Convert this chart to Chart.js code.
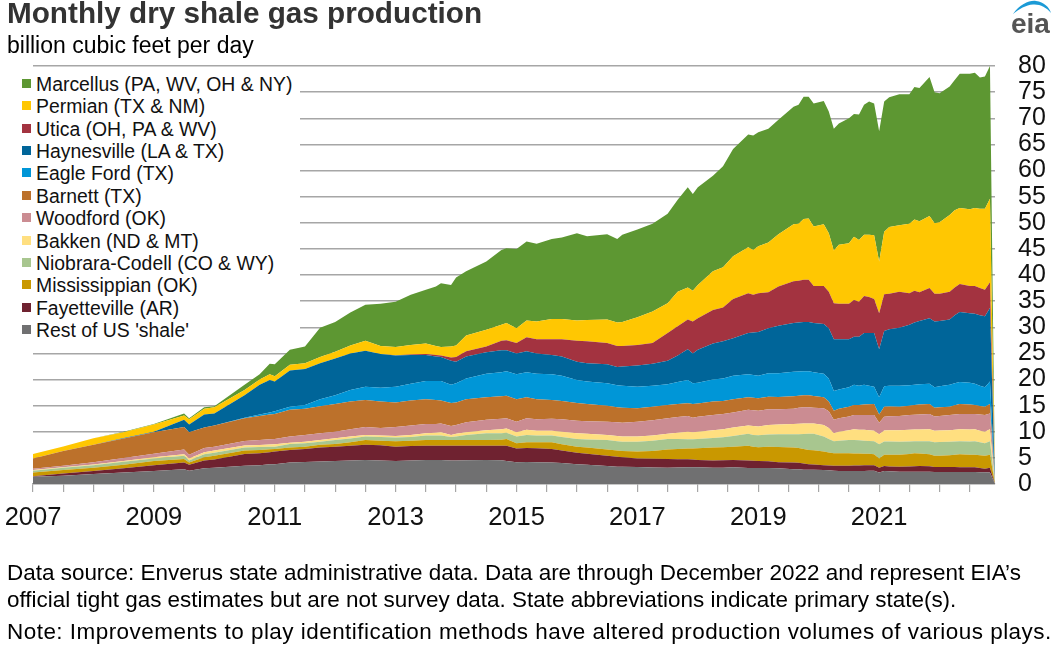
<!DOCTYPE html>
<html>
<head>
<meta charset="utf-8">
<title>Monthly dry shale gas production</title>
<script src="https://cdn.jsdelivr.net/npm/chart.js@4"></script>
<style>
  html,body{margin:0;padding:0;background:#fff;overflow:hidden}
  body{width:1061px;height:649px;position:relative;font-family:"Liberation Sans",Arial,sans-serif;color:#000}
  #wrap{position:absolute;left:0;top:0;width:1061px;height:649px}
  .t{position:absolute;white-space:nowrap;line-height:1}
  #title{left:7px;top:-2px;font-size:29.7px;font-weight:bold;color:#333}
  #sub{left:7px;top:34px;font-size:23px}
  #f1{left:7px;top:562px;font-size:22.46px}
  #f2{left:7px;top:589px;font-size:22.46px}
  #f3{left:7px;top:621px;font-size:22.46px;letter-spacing:.48px}
  #legend{position:absolute;left:15px;top:70px;width:285px;height:273px;background:#fff}
  .li{position:absolute;left:0;height:22px;width:285px}
  .sw{position:absolute;left:7px;top:6px;width:9px;height:9px}
  .lb{position:absolute;left:21px;top:1px;font-size:19.4px;line-height:20px;white-space:nowrap;color:#111}
  #eia{position:absolute;left:1005px;top:0;width:56px;height:40px}
</style>
</head>
<body>
<div id="wrap"><canvas id="c" width="1061" height="649"></canvas></div>
<div id="title" class="t">Monthly dry shale gas production</div>
<div id="sub" class="t">billion cubic feet per day</div>
<div id="legend"></div>
<svg id="eia" viewBox="0 0 56 40">
  <path d="M8 14 C15 4 25 0 31 1 C39 2 44 7 46 13 C41 7 35 4 28 4.500 C21 5 14 9 8 14 Z" fill="#1b9ad6"/>
  <text x="6" y="33" font-family="Liberation Sans" font-weight="bold" font-size="28" fill="#555">eia</text>
</svg>
<div id="f1" class="t">Data source: Enverus state administrative data. Data are through December 2022 and represent EIA’s</div>
<div id="f2" class="t">official tight gas estimates but are not survey data. State abbreviations indicate primary state(s).</div>
<div id="f3" class="t">Note: Improvements to play identification methods have altered production volumes of various plays.</div>
<script>
const months = [
  0,6,12,18,24,30,31,34,36,42,
  45,47,48,51,54,57,60,63,66,69,
  72,75,78,80,81,83,84,86,90,93,
  94,96,98,100,103,105,108,110,114,116,
  117,120,123,126,128,130,131,132,135,137,
  139,142,143,144,146,148,151,152,153,154,
  155,157,158,159,160,162,163,164,165,166,
  167,168,169,170,172,174,175,176,178,179,
  180,182,183,184,186,187,188,189,190,191];

const rest = [
  1.4,1.6,1.9,2.2,2.5,2.8,2.55,3,3.1,3.5,
  3.6,3.8,3.8,4.1,4.2,4.3,4.4,4.5,4.6,4.5,
  4.4,4.5,4.6,4.6,4.6,4.5,4.5,4.55,4.6,4.55,
  4.4,4.15,4.2,4.15,4.1,4,3.8,3.7,3.45,3.3,
  3.3,3.25,3.15,3.1,3.15,3.2,3.2,3.2,3.1,3.1,
  3.2,3.05,3.05,3.05,3.05,3,2.8,2.8,2.75,2.75,
  2.75,2.7,2.65,2.55,2.5,2.5,2.5,2.5,2.5,2.55,
  2.55,2.2,2.5,2.45,2.35,2.35,2.35,2.35,2.35,2.3,
  2.3,2.3,2.3,2.3,2.3,2.3,2.25,2.25,2.2,0];
const fayetteville = [
  .1,.4,.6,.8,1.1,1.3,1.15,1.5,1.6,2.25,
  2.3,2.3,2.4,2.4,2.5,2.7,2.75,2.8,2.9,2.9,
  2.75,2.75,2.7,2.7,2.7,2.8,2.8,2.75,2.7,2.75,
  2.9,2.65,2.7,2.7,2.6,2.4,2.2,2.1,1.95,1.9,
  1.8,1.65,1.7,1.7,1.6,1.55,1.5,1.4,1.4,1.45,
  1.4,1.45,1.4,1.35,1.3,1.15,1.3,1.25,1.15,1.05,
  1,.9,.9,.95,1,1,1.05,1.05,1.1,1.05,
  1.05,.9,.95,.9,.95,1,1.05,1.1,1.05,.95,
  .95,.95,.95,.9,.9,.9,.8,.65,.9,0];
const mississippian = [
  .7,.7,.6,.7,.8,.7,.4,.6,.7,.65,
  .6,.55,.5,.5,.45,.5,.5,.7,.9,.9,
  1.05,1.05,1.1,1.1,1.1,1.1,1.1,1.1,1.1,1.15,
  1.3,1,1.1,1.15,1.3,1.2,1.15,1.2,1.2,1.2,
  1.2,1.3,1.45,1.8,1.95,2.05,2.1,2.25,2.5,2.5,
  2.55,2.8,2.7,2.65,2.8,2.95,2.9,2.85,2.8,2.7,
  2.7,2.6,2.5,2.4,2.4,2.4,2.3,2.3,2.2,2.2,
  2.1,1.8,2.15,2.25,2.3,2.4,2.5,2.4,2.3,2.15,
  2.15,2.25,2.35,2.5,2.4,2.4,2.45,2.5,2.5,0];
const niobrara = [
  .35,.4,.5,.55,.5,.6,.4,.6,.6,.6,
  .6,.5,.45,.65,.65,.6,.75,.7,.7,.7,
  .7,.7,.9,.9,.9,.6,.7,1,1.3,1.25,
  1.2,1.3,1.4,1.3,1.3,1.4,1.45,1.5,1.8,1.8,
  1.8,1.9,2,2,1.9,1.75,1.75,1.75,1.8,1.9,
  2.05,2.3,2.25,2.3,2.3,2.4,2.5,2.6,2.85,3.1,
  3.15,2.9,2.55,2.3,2.4,2.5,2.55,2.5,2.5,2.45,
  2.5,2.7,2.55,2.55,2.5,2.4,2.3,2.35,2.5,2.6,
  2.65,2.6,2.55,2.5,2.55,2.6,2.5,2.4,2.6,0];
const bakken = [
  .15,.1,.15,.15,.2,.3,.4,.4,.4,.35,
  .35,.4,.45,.25,.3,.3,.35,.4,.3,.3,
  .3,.4,.4,.5,.6,.4,.5,.5,.6,.8,
  .8,.8,1,.9,.9,1,1.1,1.1,1,1,
  1,1,1,1,1.2,1.45,1.35,1.4,1.5,1.55,
  1.6,1.6,1.7,1.65,1.85,1.9,2,2.05,2.05,2,
  2,2.2,2.1,1.5,1.7,1.9,2.1,2.05,2.1,2.05,
  2,1.9,2.1,2.15,2.2,2.25,2.25,2.25,2.3,2.2,
  2.2,2.2,2.25,2.3,2.3,2.3,2.2,2.2,2.3,0];
const woodford = [
  .2,.3,.4,.6,.7,.9,.7,.8,.75,.9,
  .95,1,1,1.2,1.3,1.3,1.25,1.4,1.5,1.4,
  1.7,1.8,1.8,1.7,1.7,1.7,1.7,1.9,2,2,
  2,2,2.2,2.2,2.3,2.4,2.4,2.4,2.5,2.6,
  2.6,2.8,2.9,3,3,3,2.8,2.85,2.9,2.9,
  2.9,3,3,3,3,2.9,2.9,3.05,3.1,3.1,
  3,3.2,3.2,2.6,2.6,2.6,2.7,2.8,2.8,2.9,
  3,2.2,2.6,2.65,2.7,2.8,2.8,2.85,2.9,2.7,
  2.75,2.9,2.9,2.9,2.95,2.9,3.1,3.2,3,0];
const barnett = [
  2,2.8,3.35,3.7,4.1,4.3,4.3,3.9,4.05,4.35,
  4.6,4.75,4.8,5.1,5,5.2,5.3,5.3,5.2,5.1,
  4.7,4.8,4.7,4.6,4.4,4.4,4.3,4.4,4.3,4.3,
  4.3,4.3,4,3.8,3.6,3.5,3.4,3.3,3.1,2.9,
  2.9,2.6,2.6,2.5,2.5,2.45,2.6,2.55,2.6,2.5,
  2.5,2.4,2.4,2.4,2.4,2.35,2.4,2.3,2.3,2.3,
  2.25,2.1,1.9,1.7,1.8,1.9,1.9,1.9,2,2.05,
  2.1,1.6,1.95,1.9,1.8,1.8,1.85,1.9,1.9,1.7,
  1.7,1.6,1.75,1.9,1.8,1.7,1.65,1.6,1.8,0];
const eagleFord = [
  0,0,0,0,0,0,0,0,0,.1,
  .3,.4,.5,.6,.7,1.3,1.7,2.2,2.5,2.6,
  3,3.2,3.5,3.6,3.7,3.5,3.7,4,4.5,4.6,
  4.7,4.8,4.8,4.9,4.9,4.8,4.4,4.3,4.3,4.2,
  4.2,4.1,4,4,4.2,4.45,4,4,4.2,4.3,
  4.5,4.4,4.35,4.3,4.5,4.55,4.7,4.65,4.6,4.6,
  4.55,4.5,4.4,3.8,3.7,3.7,3.9,3.7,3.8,3.55,
  3.3,3.3,3.9,3.95,4,3.9,3.9,3.9,3.9,3.9,
  4,4.2,4.25,4.2,4.2,4.1,3.85,3.7,4.3,0];
const haynesville = [
  0,0,0,.1,.1,1.4,1.5,2.5,2.3,4.3,
  5.7,6.2,5.7,6.9,6.9,6.9,7,7,6.9,6.5,
  6,5.5,5,4.7,4.6,4.6,4.1,4.2,4.1,4.2,
  4,4,4,3.9,3.7,3.7,3.5,3.5,3.6,3.5,
  3.7,4.1,4.2,4.5,5.1,5.9,5.7,6.3,6.9,7.1,
  7.2,7.9,8.15,8.4,8.6,9.1,9.3,9.35,9.4,9.4,
  9.4,9.5,9.6,9.9,9.6,9.2,9.2,9.4,9.9,10.1,
  10.3,9.2,10.6,10.8,11.1,11.6,11.9,12.1,12.5,12.6,
  12.5,12.5,13,13.4,13.3,13.4,13.5,13.6,14.1,0];
const utica = [
  0,0,0,0,0,0,0,0,0,0,
  0,0,0,0,0,0,0,0,0,0,
  .05,.1,.2,.3,.3,.6,.9,1,1.1,1.8,
  1.9,2,2.7,2.7,3,3.3,4,4.2,4.1,4,
  3.9,3.9,4,5.3,5.6,5.7,6.1,6,6.4,6.5,
  7.5,7.6,7.2,7.4,6.9,7.5,8,8,8.1,8.1,
  7.1,7.3,7,6.9,6.8,6.8,7,6.7,7.1,6.9,
  6.5,6.9,7,6.8,6.9,6,6.1,5.5,5.8,5.3,
  5.2,5.3,5.3,5.4,5.2,5.3,5.2,5.1,4.9,0];
const permian = [
  .85,.9,1.25,1.1,1.4,.8,1,1.1,1.2,1,
  1,1.1,1,1.1,1.1,1.2,1.3,1.5,1.9,1.5,
  1.55,1.8,2,1.7,1.6,2.1,2.2,3,3.2,3.1,
  3.3,2.8,3.2,3.4,3.9,3.9,3.9,4.1,4.5,4.5,
  4.6,5.3,6,5.7,6.6,6.1,5.9,6.4,7.4,7.7,
  8.2,8.8,8.6,9,9.5,10,10.9,10.9,11.6,11.7,
  11.4,11.8,11.2,10.1,11.3,11.6,12.1,11.8,11.7,11.9,
  12.2,9.9,12,12.8,12.7,13.3,13.6,13.6,13.8,13.5,
  13.7,14.7,14.8,14.5,14.7,14.9,15.2,15.5,16,0];
const marcellus = [
  0,0,0,.1,.1,.4,.2,.3,.2,1,
  1,2,2.3,2.9,3.2,5.6,5.7,6.3,6.9,8.1,
  8.7,9.6,10.3,11.4,12.2,11.8,13,12.3,13.1,14.3,
  14.3,15.2,15.1,14.9,15.3,15.6,16.7,16,16.3,16,
  16.7,16.8,16.8,17.1,17.6,19.2,18.5,18.7,18.3,19.3,
  20.5,21.6,21.9,21.8,21.8,21.9,22.5,22.8,23.4,23.3,
  23.5,23.6,23.3,23.3,23.2,23.9,23.5,24,24.9,25.5,
  25.2,24.9,24.9,24.8,25.1,24.8,25.4,25.5,26.6,25.1,
  24.7,24.6,24.9,25.7,25.9,25.9,25.1,25.3,25.4,0];

// legend order, top to bottom; the stack is drawn bottom-up from the end of this list
const seriesNames = ["Marcellus (PA, WV, OH & NY)","Permian (TX & NM)","Utica (OH, PA & WV)","Haynesville (LA & TX)","Eagle Ford (TX)","Barnett (TX)","Woodford (OK)","Bakken (ND & MT)","Niobrara-Codell (CO & WY)","Mississippian (OK)","Fayetteville (AR)","Rest of US 'shale'"];
const seriesColors = ["#5d9732","#ffc702","#a33340","#006599","#0096d7","#bc712b","#cb8c92","#ffdf80","#a8c68f","#c99800","#6f2230","#707071"];
const seriesValues = [marcellus,permian,utica,haynesville,eagleFord,barnett,woodford,bakken,niobrara,mississippian,fayetteville,rest];
const yTicks = [0,5,10,15,20,25,30,35,40,45,50,55,60,65,70,75,80];

const legend = document.getElementById('legend');
seriesNames.forEach((name,i)=>{
  const row = document.createElement('div');
  row.className='li';
  row.style.top = (2.7 + i*22.4) + 'px';
  row.innerHTML = '<span class="sw" style="background:'+seriesColors[i]+'"></span><span class="lb"></span>';
  row.querySelector('.lb').textContent = name;
  legend.appendChild(row);
});

const datasets = [];
for(let i=seriesNames.length-1;i>=0;i--){
  datasets.push({
    label: seriesNames[i],
    data: months.map((m,k)=>({x:m,y:seriesValues[i][k]})),
    backgroundColor: seriesColors[i],
    borderColor: seriesColors[i],
    borderWidth: 0,
    pointRadius: 0,
    tension: 0,
    fill: i===seriesNames.length-1 ? 'origin' : '-1'
  });
}

new Chart(document.getElementById('c'),{
  type:'line',
  data:{datasets},
  options:{
    responsive:false,
    animation:false,
    devicePixelRatio:1,
    layout:{padding:{left:33,top:66,right:0,bottom:0}},
    plugins:{legend:{display:false},title:{display:false},tooltip:{enabled:false}},
    scales:{
      x:{
        type:'linear',
        min:0,max:191,
        afterFit(s){s.height=165;s.paddingLeft=0;s.paddingRight=0;},
        grid:{display:true,drawOnChartArea:false,drawTicks:true,tickLength:8,color:'#a6a6a6',lineWidth:1.2},
        border:{display:true,color:'#a6a6a6',width:1.2},
        ticks:{
          stepSize:6,includeBounds:false,autoSkip:false,maxRotation:0,minRotation:0,padding:11,
          color:'#111',font:{family:'Liberation Sans',size:25.5},
          callback(v){return v%24===0 ? String(2007+v/12) : '';}
        }
      },
      y:{
        position:'right',
        stacked:true,
        min:0,max:80,
        afterFit(s){s.width=66;s.paddingTop=0;s.paddingBottom=0;},
        afterBuildTicks(s){s.ticks=yTicks.map(v=>({value:v}));},
        grid:{display:true,drawTicks:false,tickLength:0,color:'#a6a6a6',lineWidth:1.4},
        border:{display:false},
        ticks:{
          padding:23,crossAlign:'near',autoSkip:false,
          color:'#111',font:{family:'Liberation Sans',size:25}
        }
      }
    }
  }
});
</script>
</body>
</html>
